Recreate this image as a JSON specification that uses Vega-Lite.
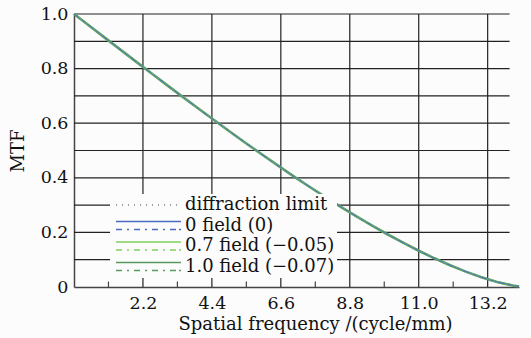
{
  "$schema": "https://vega.github.io/schema/vega-lite/v6.json",
  "width": 445,
  "height": 273,
  "autosize": {"type": "none"},
  "padding": {"left": 74, "top": 14, "right": 12, "bottom": 51},
  "background": "#fcfcfc",
  "config": {
    "view": {"stroke": null},
    "font": "DejaVu Serif",
    "axis": {"grid": false, "ticks": false, "labelFont": "DejaVu Serif", "titleFont": "DejaVu Serif", "labelFontSize": 17.5, "titleFontSize": 18, "labelColor": "#111", "titleColor": "#111", "titleFontWeight": "normal", "domainColor": "#444", "domainWidth": 1.5}
  },
  "datasets": {
    "mtf": [
      {"f": 0, "m": 1}, {"f": 0.5, "m": 0.9558}, {"f": 1, "m": 0.9117}, {"f": 1.5, "m": 0.8676},
      {"f": 2, "m": 0.8237}, {"f": 2.5, "m": 0.7801}, {"f": 3, "m": 0.7367}, {"f": 3.5, "m": 0.6936},
      {"f": 4, "m": 0.6509}, {"f": 4.5, "m": 0.6087}, {"f": 5, "m": 0.567}, {"f": 5.5, "m": 0.5257},
      {"f": 6, "m": 0.4853}, {"f": 6.5, "m": 0.4454}, {"f": 7, "m": 0.4064}, {"f": 7.5, "m": 0.3682},
      {"f": 8, "m": 0.3309}, {"f": 8.5, "m": 0.2947}, {"f": 9, "m": 0.2596}, {"f": 9.5, "m": 0.2257},
      {"f": 10, "m": 0.1932}, {"f": 10.5, "m": 0.1622}, {"f": 11, "m": 0.1327}, {"f": 11.5, "m": 0.1051},
      {"f": 12, "m": 0.0796}, {"f": 12.5, "m": 0.0564}, {"f": 13, "m": 0.0359}, {"f": 13.5, "m": 0.0186},
      {"f": 14, "m": 0.0055}, {"f": 14.2, "m": 0.002}
    ],
    "hgrid": [{"y": 0.1}, {"y": 0.2}, {"y": 0.3}, {"y": 0.4}, {"y": 0.5}, {"y": 0.6}, {"y": 0.7}, {"y": 0.8}, {"y": 0.9}, {"y": 1.0}],
    "vgrid": [{"x": 2.2}, {"x": 4.4}, {"x": 6.6}, {"x": 8.8}, {"x": 11.0}, {"x": 13.2}],
    "minor": [{"x": 1.1}, {"x": 3.3}, {"x": 5.5}, {"x": 7.7}, {"x": 9.9}, {"x": 12.1}]
  },
  "layer": [
    {
      "data": {"name": "hgrid"},
      "mark": {"type": "rule", "color": "#222", "strokeWidth": 1.2},
      "encoding": {
        "y": {"field": "y", "type": "quantitative", "title": "MTF"},
        "x": {"datum": 0, "type": "quantitative", "title": "Spatial frequency /(cycle/mm)"},
        "x2": {"datum": 13.9}
      }
    },
    {
      "data": {"name": "vgrid"},
      "mark": {"type": "rule", "color": "#222", "strokeWidth": 1.2},
      "encoding": {
        "x": {"field": "x", "type": "quantitative", "title": "Spatial frequency /(cycle/mm)"},
        "y": {"datum": 0, "type": "quantitative", "title": "MTF"},
        "y2": {"datum": 1}
      }
    },
    {
      "data": {"name": "minor"},
      "mark": {"type": "rule", "color": "#444", "strokeWidth": 1.2},
      "encoding": {
        "x": {"field": "x", "type": "quantitative", "title": "Spatial frequency /(cycle/mm)"},
        "y": {"datum": 0, "type": "quantitative", "title": "MTF"},
        "y2": {"datum": 0.02}
      }
    },
    {
      "data": {"name": "mtf"},
      "mark": {"type": "line", "strokeWidth": 1.2, "strokeDash": [1.5, 4]},
      "encoding": {
        "x": {"field": "f", "type": "quantitative", "title": "Spatial frequency /(cycle/mm)",
              "scale": {"domain": [0, 14.2], "nice": false, "zero": false},
              "axis": {"values": [2.2, 4.4, 6.6, 8.8, 11.0, 13.2], "format": ".1f", "labelPadding": 7, "titlePadding": 4, "titleX": 241, "labelFlush": false}},
        "y": {"field": "m", "type": "quantitative", "title": "MTF",
              "scale": {"domain": [0, 1], "nice": false},
              "axis": {"values": [0, 0.2, 0.4, 0.6, 0.8, 1.0], "labelExpr": "datum.value == 0 ? '0' : format(datum.value, '.1f')", "labelPadding": 6, "titlePadding": 13, "labelFlush": false}},
        "color": {"datum": "diffraction limit", "type": "nominal",
          "scale": {"domain": ["diffraction limit", "0 field (0)", "0.7 field (−0.05)", "1.0 field (−0.07)"], "range": ["#555566", "#4a6cc0", "#7fd05a", "#5a9a5c"]},
          "legend": {
            "title": null, "orient": "none", "legendX": 36, "legendY": 180,
            "fillColor": "#fcfcfc", "padding": 2, "symbolSize": 100,
            "labelFont": "DejaVu Serif", "labelFontSize": 18, "labelColor": "#111", "labelOffset": 55, "rowPadding": 2.5,
            "encode": {"symbols": {"update": {
              "shape": {"signal": "datum.value === 'diffraction limit' ? 'M-1,0H-0.85M0.2,0H0.35M1.4,0H1.55M2.6,0H2.75M3.8,0H3.95M5,0H5.15M6.2,0H6.35M7.4,0H7.55M8.6,0H8.75M9.8,0H9.95M11,0H11.15' : 'M-1,-0.8H12M-1,0.8H0.2M1.2,0.8H1.6M2.6,0.8H3.8M4.8,0.8H5.2M6.2,0.8H7.4M8.4,0.8H8.8M9.8,0.8H11M11.6,0.8H12'"},
              "fill": {"value": "transparent"},
              "strokeWidth": {"value": 1.3}
            }}}
          }}
      }
    },
    {
      "data": {"name": "mtf"},
      "mark": {"type": "line", "strokeWidth": 2.6},
      "encoding": {
        "x": {"field": "f", "type": "quantitative", "title": "Spatial frequency /(cycle/mm)"},
        "y": {"field": "m", "type": "quantitative", "title": "MTF"},
        "color": {"datum": "1.0 field (−0.07)", "type": "nominal"}
      }
    },
    {
      "data": {"name": "mtf"},
      "mark": {"type": "line", "strokeWidth": 1.2},
      "encoding": {
        "x": {"field": "f", "type": "quantitative", "title": "Spatial frequency /(cycle/mm)"},
        "y": {"field": "m", "type": "quantitative", "title": "MTF"},
        "color": {"datum": "0.7 field (−0.05)", "type": "nominal"}
      }
    },
    {
      "data": {"name": "mtf"},
      "mark": {"type": "line", "strokeWidth": 1.2, "strokeDash": [6, 5, 2, 5]},
      "encoding": {
        "x": {"field": "f", "type": "quantitative", "title": "Spatial frequency /(cycle/mm)"},
        "y": {"field": "m", "type": "quantitative", "title": "MTF"},
        "color": {"datum": "1.0 field (−0.07)", "type": "nominal"}
      }
    },
    {
      "data": {"name": "mtf"},
      "mark": {"type": "line", "strokeWidth": 1.2, "strokeDash": [6, 5, 2, 5]},
      "encoding": {
        "x": {"field": "f", "type": "quantitative", "title": "Spatial frequency /(cycle/mm)"},
        "y": {"field": "m", "type": "quantitative", "title": "MTF"},
        "color": {"datum": "0.7 field (−0.05)", "type": "nominal"}
      }
    },
    {
      "data": {"name": "mtf"},
      "mark": {"type": "line", "strokeWidth": 0.9, "strokeDash": [6, 5, 2, 5]},
      "encoding": {
        "x": {"field": "f", "type": "quantitative", "title": "Spatial frequency /(cycle/mm)"},
        "y": {"field": "m", "type": "quantitative", "title": "MTF"},
        "color": {"datum": "0 field (0)", "type": "nominal"}
      }
    },
    {
      "data": {"name": "mtf"},
      "mark": {"type": "line", "strokeWidth": 0.8},
      "encoding": {
        "x": {"field": "f", "type": "quantitative", "title": "Spatial frequency /(cycle/mm)"},
        "y": {"field": "m", "type": "quantitative", "title": "MTF"},
        "color": {"datum": "0 field (0)", "type": "nominal"}
      }
    }
  ]
}
